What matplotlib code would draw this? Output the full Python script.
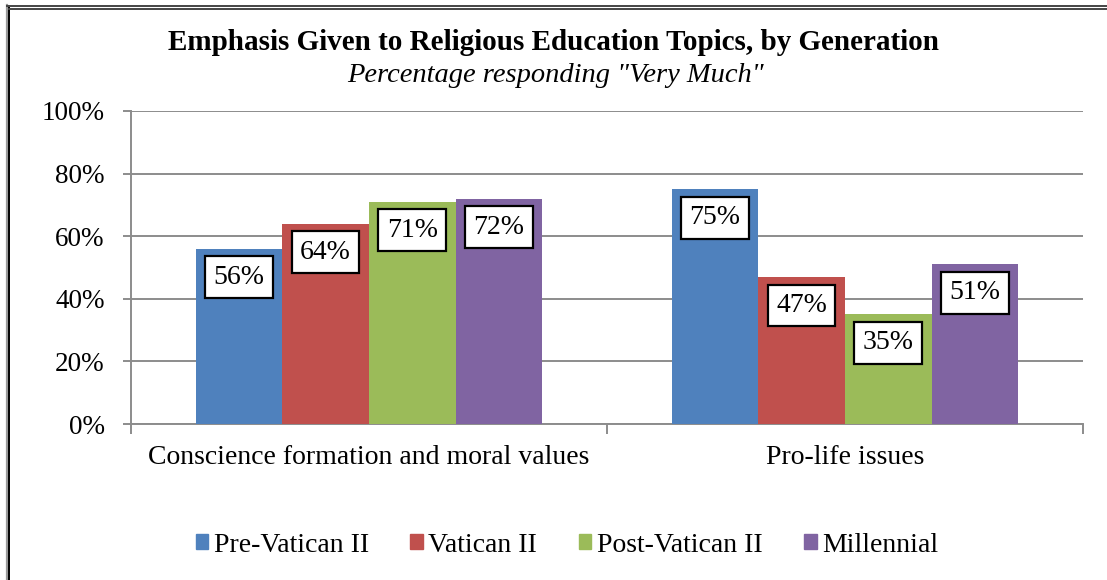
import numpy as np
import matplotlib
matplotlib.use('Agg')
import matplotlib.pyplot as plt
from matplotlib.lines import Line2D

plt.rcParams['font.family'] = ['Liberation Serif', 'DejaVu Serif']

# Data
categories = ['Conscience formation and moral values', 'Pro-life issues']
generations = ['Pre-Vatican II', 'Vatican II', 'Post-Vatican II', 'Millennial']
values = {
    'Pre-Vatican II': [56, 75],
    'Vatican II': [64, 47],
    'Post-Vatican II': [71, 35],
    'Millennial': [72, 51],
}
colors = ['#4F81BD', '#C0504D', '#9BBB59', '#8064A2']
yticks = [0, 20, 40, 60, 80, 100]

W, H = 1107, 580
fig = plt.figure(figsize=(W / 100, H / 100), dpi=100)

# axes placed in pixel terms
ax = fig.add_axes([131 / W, (H - 424) / H, 952 / W, 313 / H])

x = np.arange(len(categories))
bw = 0.182
offsets = (np.arange(len(generations)) - 1.5) * bw
for i, g in enumerate(generations):
    bars = ax.bar(x + offsets[i], values[g], width=bw, color=colors[i], zorder=3)
    for b, v in zip(bars, values[g]):
        ax.annotate(f'{v}%', (b.get_x() + b.get_width() / 2, v),
                    xytext=(0, -20.5), textcoords='offset points',
                    ha='center', va='center', fontsize=20, zorder=5,
                    bbox=dict(boxstyle='square,pad=0.3', fc='white', ec='black', lw=1.6))

ax.set_xlim(-0.5, len(categories) - 0.5)
ax.set_ylim(0, 100)
ax.set_yticks(yticks)
ax.set_yticklabels([f'{t}%' for t in yticks], fontsize=19.5)
ax.yaxis.grid(True, color='#8C8C8C', lw=1.4, zorder=0)
ax.set_axisbelow(True)

ax.set_xticks(x)
ax.set_xticklabels(categories, fontsize=20)
ax.set_xticks([-0.5, 0.5, 1.5], minor=True)
ax.tick_params(axis='x', which='major', length=0, pad=15)
ax.tick_params(axis='x', which='minor', length=7, width=1.4, color='#8C8C8C')
ax.tick_params(axis='y', length=6, width=1.4, color='#8C8C8C', pad=13)

for s in ['top', 'right']:
    ax.spines[s].set_visible(False)
for s in ['left', 'bottom']:
    ax.spines[s].set_color('#8C8C8C')
    ax.spines[s].set_linewidth(1.4)

fig.text(553 / W, 1 - 42 / H, 'Emphasis Given to Religious Education Topics, by Generation',
         ha='center', va='center', fontsize=21, fontweight='bold')
fig.text(556 / W, 1 - 75 / H, 'Percentage responding "Very Much"',
         ha='center', va='center', fontsize=20.5, style='italic')

handles = [plt.Rectangle((0, 0), 1, 1, color=c) for c in colors]
fig.legend(handles, generations, loc='center', bbox_to_anchor=(567 / W, 1 - 545 / H),
           ncol=4, frameon=False, fontsize=20, handlelength=0.45, handleheight=0.45,
           handletextpad=0.2, columnspacing=1.5)

# double frame at top and left
fig.add_artist(Line2D([6.5 / W, 6.5 / W], [0, 1 - 5 / H], transform=fig.transFigure, color='#999999', lw=1.6))
fig.add_artist(Line2D([8.5 / W, 8.5 / W], [0, 1 - 8 / H], transform=fig.transFigure, color='black', lw=1.4))
fig.add_artist(Line2D([6.5 / W, 1], [1 - 5.5 / H, 1 - 5.5 / H], transform=fig.transFigure, color='#444444', lw=1.4))
fig.add_artist(Line2D([8.5 / W, 1], [1 - 8.5 / H, 1 - 8.5 / H], transform=fig.transFigure, color='#444444', lw=1.4))

fig.savefig('out.png', dpi=100)
